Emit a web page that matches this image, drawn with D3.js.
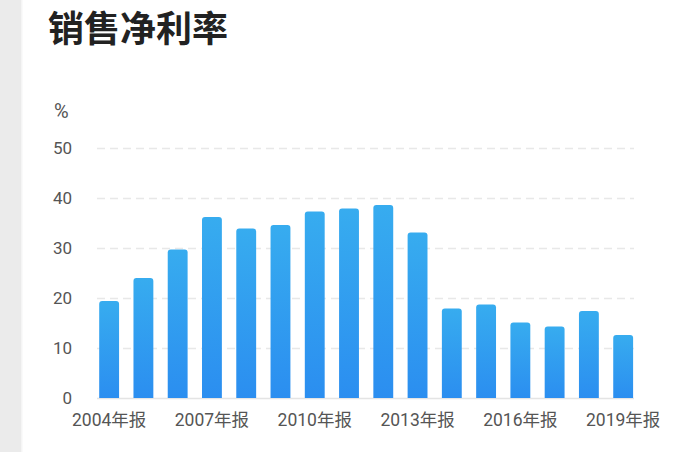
<!DOCTYPE html>
<html><head><meta charset="utf-8">
<script src="https://cdn.jsdelivr.net/npm/d3@7"></script>
<style>body{margin:0;background:#fff;}svg{display:block;}</style>
</head><body><svg id="c" width="696" height="452"></svg>
<script>
const years = ["2004","2005","2006","2007","2008","2009","2010","2011","2012","2013","2014","2015","2016","2017","2018","2019"];
const categories = years.map(y => y + "年报");
const values = [19.4, 24.0, 29.7, 36.2, 33.9, 34.6, 37.3, 37.9, 38.6, 33.1, 17.9, 18.7, 15.1, 14.3, 17.4, 12.6];
const yTicks = [0, 10, 20, 30, 40, 50];
const shownLabels = ["2004年报","2007年报","2010年报","2013年报","2016年报","2019年报"];

const svg = d3.select("#c");
svg.append("rect").attr("x",0).attr("y",0).attr("width",21).attr("height",452).attr("fill","#ebebeb");
svg.append("rect").attr("x",21).attr("y",0).attr("width",1.5).attr("height",452).attr("fill","#f5f5f5");

svg.append("text").attr("x",48).attr("y",42).text("销售净利率")
  .attr("font-family","'Noto Sans CJK SC'").attr("font-weight","bold").attr("font-size",36).attr("fill","#222");

const x = d3.scaleBand().domain(categories).range([92, 640.3]).paddingInner(0.42).paddingOuter(0.21);
const y = d3.scaleLinear().domain([0,50]).range([398,148]);

const defs = svg.append("defs");
const g = defs.append("linearGradient").attr("id","bg").attr("x1",0).attr("y1",0).attr("x2",0).attr("y2",1);
g.append("stop").attr("offset","0%").attr("stop-color","#37acef");
g.append("stop").attr("offset","100%").attr("stop-color","#2b8ef0");

// grid
svg.append("g").selectAll("line").data(yTicks).join("line")
  .attr("x1",97).attr("x2",634).attr("y1",d=>y(d)+0.5).attr("y2",d=>y(d)+0.5)
  .attr("stroke",d=> d===0 ? "#e4e4e4" : "#e8e8e8").attr("stroke-width",1.3)
  .attr("stroke-dasharray",d=> d===0 ? null : "8,5");

// y axis labels
const yAxis = d3.axisLeft(y).tickValues(yTicks).tickSize(0).tickPadding(0);
const ya = svg.append("g").attr("transform","translate(72,0)").call(yAxis);
ya.select(".domain").remove();
ya.selectAll("text").attr("font-family","Roboto").attr("font-size",17).attr("fill","#555").attr("dy","0.35em");

svg.append("text").attr("x",54).attr("y",118).text("%")
  .attr("font-family","Roboto").attr("font-size",20).attr("fill","#555");

// bars
const r = 3;
svg.append("g").selectAll("path").data(values).join("path")
  .attr("fill","url(#bg)")
  .attr("d",(d,i)=>{
    const x0 = x(categories[i]), w = x.bandwidth(), y0 = y(d), y1 = y(0);
    return `M${x0},${y1} L${x0},${y0+r} Q${x0},${y0} ${x0+r},${y0} L${x0+w-r},${y0} Q${x0+w},${y0} ${x0+w},${y0+r} L${x0+w},${y1} Z`;
  });

// x axis labels
const xAxis = d3.axisBottom(x).tickValues(shownLabels).tickSize(0).tickPadding(0);
const xa = svg.append("g").attr("transform","translate(0,398)").call(xAxis);
xa.select(".domain").remove();
xa.selectAll("text").attr("font-family","Roboto, 'Noto Sans CJK SC'").attr("font-size",17.5).attr("fill","#555").attr("dy","1.6em");
</script></body></html>
